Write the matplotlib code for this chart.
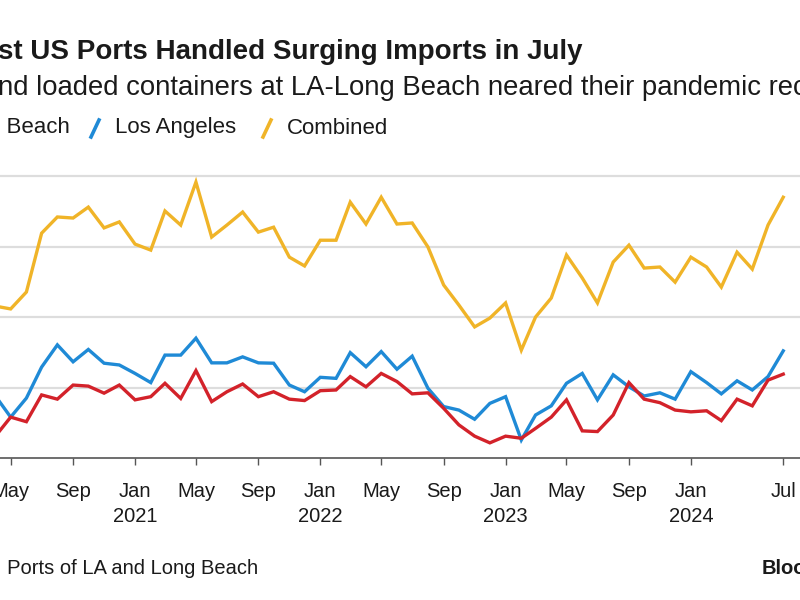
import matplotlib
matplotlib.use('Agg')
import matplotlib.pyplot as plt
from matplotlib.lines import Line2D
import pandas as pd

plt.rcParams['font.family'] = ['Liberation Sans', 'DejaVu Sans']

# monthly loaded imports, thousand TEU (Apr 2020 - Jul 2024)
months = pd.date_range('2020-04-01', '2024-07-01', freq='MS')
combined = [631, 623, 671, 838, 884, 881, 912, 853, 870, 807, 790, 901, 861,
            983, 827, 861, 898, 841, 855, 770, 745, 818, 818, 926, 864, 940,
            864, 867, 799, 691, 634, 572, 597, 640, 506, 600, 654, 776, 711,
            640, 756, 804, 739, 742, 699, 770, 742, 685, 784, 736, 861, 940]
los_angeles = [376, 316, 370, 458, 521, 473, 508, 469, 464, 440, 414, 492, 492,
               540, 470, 470, 487, 470, 469, 407, 388, 429, 426, 499, 459, 502,
               452, 489, 398, 346, 336, 310, 355, 374, 251, 322, 348, 412, 440,
               365, 436, 402, 376, 385, 367, 445, 414, 382, 419, 393, 431, 504]
long_beach = [262, 316, 303, 379, 367, 407, 404, 384, 407, 365, 374, 412, 369,
              448, 360, 388, 410, 374, 388, 367, 363, 391, 393, 431, 402, 440,
              417, 382, 385, 341, 294, 262, 243, 262, 256, 284, 316, 365, 277,
              275, 322, 414, 367, 357, 336, 331, 334, 306, 367, 348, 421, 438]

tick_dates = ['2020-05-01', '2020-09-01', '2021-01-01', '2021-05-01', '2021-09-01',
              '2022-01-01', '2022-05-01', '2022-09-01', '2023-01-01', '2023-05-01',
              '2023-09-01', '2024-01-01', '2024-07-01']
tick_labels = ['May', 'Sep', 'Jan\n2021', 'May', 'Sep', 'Jan\n2022', 'May', 'Sep',
               'Jan\n2023', 'May', 'Sep', 'Jan\n2024', 'Jul']
grid_values = [400, 600, 800, 1000]

RED = '#d3222a'
BLUE = '#1f8ad6'
YELLOW = '#f0b428'
TEXT = '#1a1a1a'

fig = plt.figure(figsize=(8, 6), dpi=100)
ax = fig.add_axes([0, 1 - 458 / 600, 1, (458 - 162) / 600])

ax.plot(months, combined, color=YELLOW, lw=2.4, solid_joinstyle='miter')
ax.plot(months, los_angeles, color=BLUE, lw=2.4, solid_joinstyle='miter')
ax.plot(months, long_beach, color=RED, lw=2.4, solid_joinstyle='miter')

ax.set_ylim(200, 1040)
ax.set_xlim(pd.Timestamp('2020-04-10'), pd.Timestamp('2024-08-03'))
ax.set_yticks(grid_values)
ax.yaxis.grid(True, color='#dddddd', lw=1.6)
ax.tick_params(axis='y', length=0, labelleft=False)

ax.set_xticks(pd.to_datetime(tick_dates))
ax.set_xticklabels(tick_labels, fontsize=14.5, color=TEXT)
ax.tick_params(axis='x', direction='out', length=5, width=1, color='#555555', pad=12)
for lbl in ax.get_xticklabels():
    lbl.set_linespacing(1.45)

for side in ['top', 'left', 'right']:
    ax.spines[side].set_visible(False)
ax.spines['bottom'].set_color('#555555')
ax.spines['bottom'].set_linewidth(1.2)

# header text
fig.text(-0.002, 1 - 52 / 600, 'st US Ports Handled Surging Imports in July',
         fontsize=20, fontweight='bold', color=TEXT, va='center', ha='left')
fig.text(-0.002, 1 - 88 / 600,
         'nd loaded containers at LA-Long Beach neared their pandemic record',
         fontsize=19.8, color=TEXT, va='center', ha='left')

# legend row
fig.text(70 / 800, 1 - 128 / 600, 'Long Beach', fontsize=16, color=TEXT,
         va='center', ha='right')
legend_items = [(95, BLUE, 'Los Angeles'), (267, YELLOW, 'Combined')]
for px, col, name in legend_items:
    fig.add_artist(Line2D([(px - 4) / 800, (px + 4) / 800],
                          [1 - 137 / 600, 1 - 120 / 600],
                          color=col, lw=2.6, transform=fig.transFigure))
    fig.text((px + 20) / 800, 1 - 128 / 600, name, fontsize=16, color=TEXT,
             va='center', ha='left')

# footer
fig.text(258 / 800, 1 - 568 / 600, 'Source: Ports of LA and Long Beach',
         fontsize=14.5, color=TEXT, va='center', ha='right')
fig.text(762 / 800, 1 - 568 / 600, 'Bloomberg', fontsize=14.5,
         fontweight='bold', color=TEXT, va='center', ha='left')

fig.savefig('out.png', dpi=100, facecolor='white')
